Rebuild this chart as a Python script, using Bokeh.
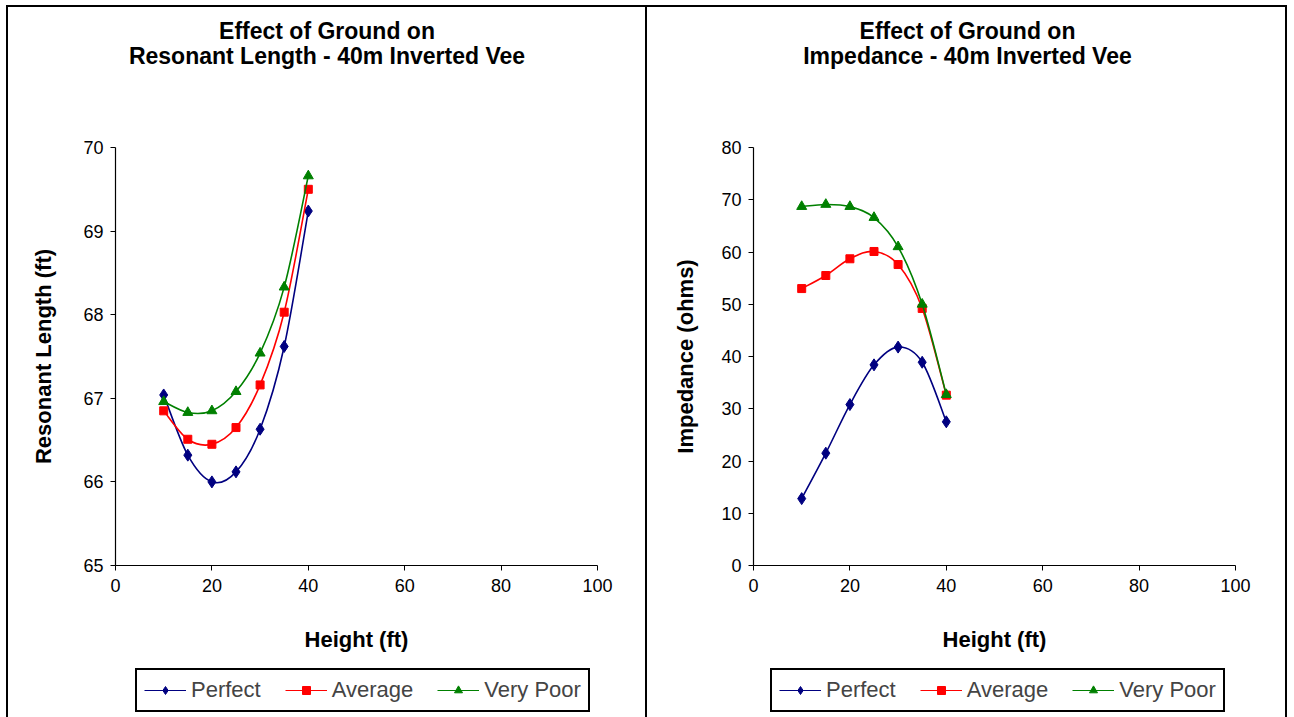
import numpy as np
from bokeh.plotting import figure
from bokeh.layouts import row, column
from bokeh.models import Legend, LegendItem, Label, Range1d, FixedTicker
from bokeh.embed import file_html
from bokeh.resources import INLINE

heights = [10, 15, 20, 25, 30, 35, 40]
series_names = ["Perfect", "Average", "Very Poor"]

length_perfect = [67.04, 66.32, 66.00, 66.12, 66.63, 67.62, 69.24]
length_average = [66.85, 66.51, 66.45, 66.65, 67.16, 68.03, 69.50]
length_very_poor = [66.96, 66.83, 66.85, 67.08, 67.54, 68.33, 69.66]

imp_perfect = [12.8, 21.5, 30.8, 38.4, 41.8, 38.9, 27.5]
imp_average = [53.0, 55.5, 58.7, 60.1, 57.6, 49.2, 32.6]
imp_very_poor = [68.7, 69.1, 68.7, 66.6, 61.0, 50.0, 32.7]

x_ticks = [0, 20, 40, 60, 80, 100]
len_ticks = [65, 66, 67, 68, 69, 70]
imp_ticks = [0, 10, 20, 30, 40, 50, 60, 70, 80]

colors = ["#000080", "#FF0000", "#008000"]
markers = ["diamond", "square", "triangle"]
msizes = [12, 8, 10]
legend_msizes = [9, 6, 8]

FONT = "Liberation Sans"
TOP_H = 127
MAIN_H = 528
LEG_H = 57


def smooth(x, y):
    x = np.asarray(x, float)
    y = np.asarray(y, float)
    n = len(x)
    xp = np.concatenate([[x[0]], x, [x[-1]]])
    yp = np.concatenate([[y[0]], y, [y[-1]]])
    return dict(
        x0=x[:-1], y0=y[:-1], x1=x[1:], y1=y[1:],
        cx0=x[:-1] + (xp[2:n + 1] - xp[0:n - 1]) / 6.0,
        cy0=y[:-1] + (yp[2:n + 1] - yp[0:n - 1]) / 6.0,
        cx1=x[1:] - (xp[3:n + 2] - xp[1:n]) / 6.0,
        cy1=y[1:] - (yp[3:n + 2] - yp[1:n]) / 6.0,
    )


def draw_series(p, series, sizes, lw):
    rends = []
    for name, vals, c, m, s in zip(series_names, series, colors, markers, sizes):
        b = p.bezier(line_color=c, line_width=lw, **smooth(heights, vals))
        sc = p.scatter(heights, vals, marker=m, size=s, fill_color=c, line_color=c)
        rends.append((name, b, sc))
    return rends


def blank_fig(width, height, styles):
    p = figure(width=width, height=height, output_backend="svg",
               toolbar_location=None, x_range=Range1d(0, 1), y_range=Range1d(0, 1),
               x_axis_location=None, y_axis_location=None, min_border=0)
    p.styles = styles
    p.outline_line_color = None
    p.grid.visible = False
    p.background_fill_color = "white"
    p.border_fill_color = "white"
    return p


def make_panel(width, bl, br, yticks, ylabel, ylabel_standoff, title2, series,
               title_cx, legend_x, side_styles, top_styles):
    # titles (positions relative to the chart's plotting area, which the
    # column aligns across its children)
    top = blank_fig(width, TOP_H, top_styles)
    for txt, yy in (("Effect of Ground on", TOP_H - 23), (title2, TOP_H - 48)):
        top.add_layout(Label(x=title_cx, y=yy, x_units="screen", y_units="screen",
                             text=txt, text_align="center", text_baseline="middle",
                             text_font=FONT, text_font_size="23px",
                             text_font_style="bold", text_color="#000000"))

    # chart
    p = figure(width=width, height=MAIN_H, output_backend="svg",
               toolbar_location=None, x_range=Range1d(0, 100),
               y_range=Range1d(yticks[0], yticks[-1]), min_border_left=bl,
               min_border_right=br, min_border_top=15, min_border_bottom=95)
    p.styles = side_styles
    p.outline_line_color = None
    p.background_fill_color = "white"
    p.border_fill_color = "white"
    p.grid.visible = False
    for ax in (p.xaxis[0], p.yaxis[0]):
        ax.axis_line_color = "#000000"
        ax.axis_line_width = 1.2
        ax.major_tick_line_color = "#000000"
        ax.major_tick_out = 5
        ax.major_tick_in = 0
        ax.minor_tick_line_color = None
        ax.major_label_text_font = FONT
        ax.major_label_text_font_size = "18px"
        ax.major_label_text_color = "#000000"
        ax.axis_label_text_font = FONT
        ax.axis_label_text_font_size = "22px"
        ax.axis_label_text_font_style = "bold"
        ax.axis_label_text_color = "#000000"
    p.xaxis.ticker = FixedTicker(ticks=x_ticks)
    p.yaxis.ticker = FixedTicker(ticks=yticks)
    p.xaxis.axis_label = "Height (ft)"
    p.yaxis.axis_label = ylabel
    p.xaxis.major_label_standoff = 8
    p.yaxis.major_label_standoff = 7
    p.xaxis.axis_label_standoff = 32
    p.yaxis.axis_label_standoff = ylabel_standoff
    draw_series(p, series, msizes, 1.6)

    # legend strip (its renderers lie outside its empty view)
    lg = blank_fig(width, LEG_H, side_styles)
    rends = draw_series(lg, series, legend_msizes, 1.2)
    items = [LegendItem(label=n, renderers=[b, sc]) for n, b, sc in rends]
    leg = Legend(items=items, orientation="horizontal", location=(legend_x, 5),
                 border_line_color="#000000", border_line_width=2,
                 border_line_alpha=1.0,
                 background_fill_color="white", background_fill_alpha=1,
                 label_text_font=FONT, label_text_font_size="22px",
                 glyph_width=42, glyph_height=20, label_standoff=5, spacing=24,
                 padding=7, margin=0)
    lg.add_layout(leg)
    return top, p, lg


t1, p1, l1 = make_panel(641, 107, 52, len_ticks, "Resonant Length (ft)", 24,
                        "Resonant Length - 40m Inverted Vee",
                        [length_perfect, length_average, length_very_poor],
                        211.5, 20,
                        {"border-left": "2px solid black", "border-right": "2px solid black"},
                        {"border-left": "2px solid black", "border-top": "2px solid black",
                         "border-right": "2px solid black"})
t2, p2, l2 = make_panel(640, 106, 52, imp_ticks, "Impedance (ohms)", 20,
                        "Impedance - 40m Inverted Vee",
                        [imp_perfect, imp_average, imp_very_poor],
                        214, 17,
                        {"border-right": "2px solid black"},
                        {"border-top": "2px solid black", "border-right": "2px solid black"})

c1 = column(t1, p1, l1, styles={"margin-left": "6px", "margin-top": "5px"})
c2 = column(t2, p2, l2, styles={"margin-top": "5px"})
layout = row(c1, c2)
open("out.html", "w").write(file_html(layout, INLINE))
